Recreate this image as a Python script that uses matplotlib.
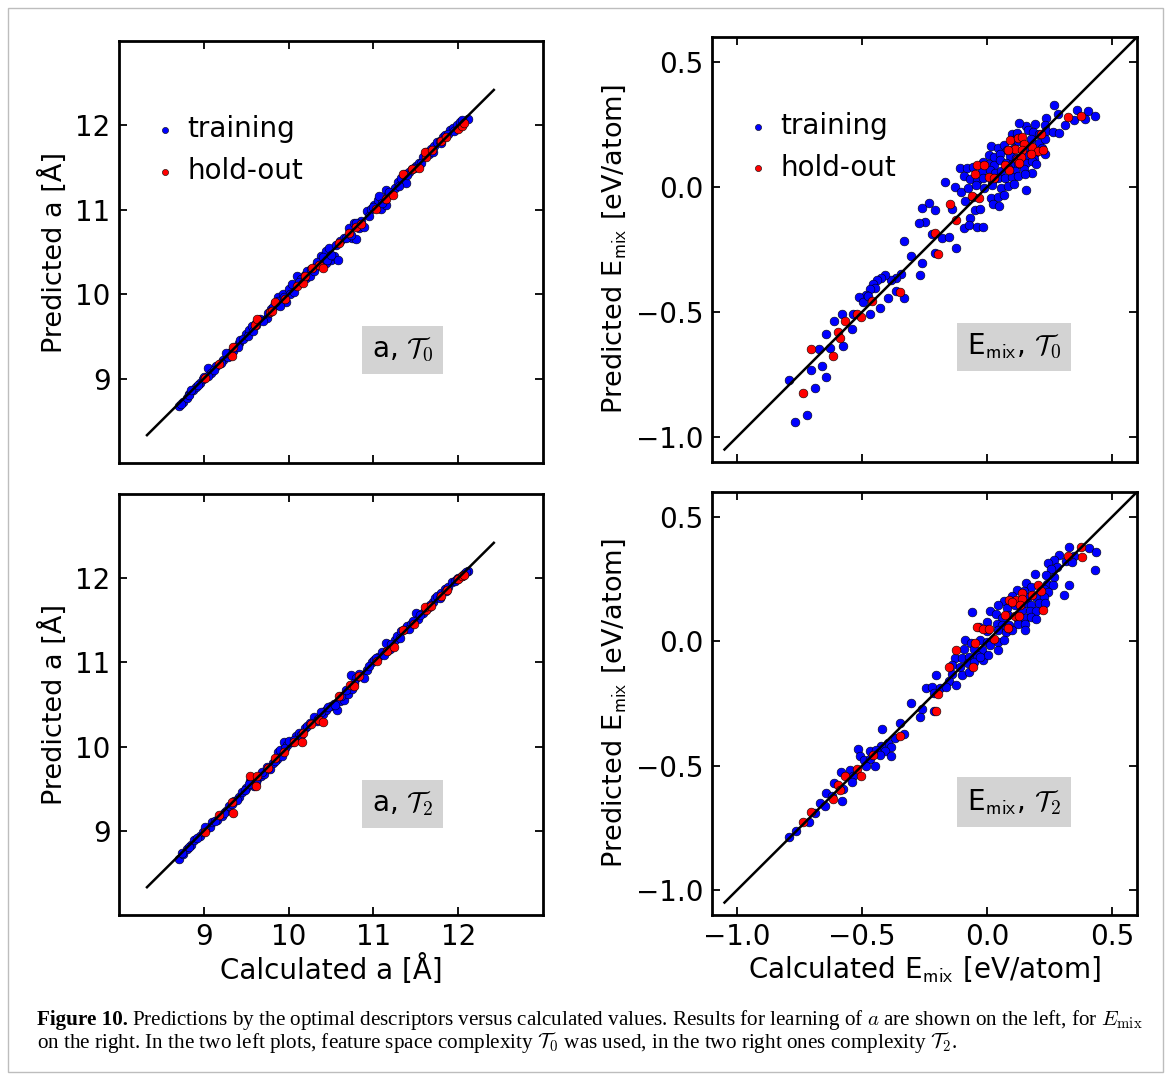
import numpy as np
import matplotlib
matplotlib.use("Agg")
import matplotlib.pyplot as plt
from matplotlib.patches import Rectangle

plt.rcParams["mathtext.fontset"] = "cm"
plt.rcParams["font.family"] = "DejaVu Sans"

# ---------------------------------------------------------------------------
# data (calculated, predicted)
# ---------------------------------------------------------------------------
a_t0_training = [
    (8.71, 8.67), (8.75, 8.72), (8.80, 8.77), (8.83, 8.82), (8.87, 8.86), (8.91, 8.90),
    (8.96, 8.95), (8.99, 9.00), (9.05, 9.12), (9.09, 9.07), (9.14, 9.15), (9.23, 9.22),
    (9.28, 9.26), (9.32, 9.32), (9.37, 9.38), (9.42, 9.42), (9.43, 9.46), (9.50, 9.53),
    (9.53, 9.58), (9.57, 9.62), (9.61, 9.66), (9.66, 9.71), (9.74, 9.72), (9.79, 9.83),
    (9.84, 9.90), (9.88, 9.97), (9.93, 10.00), (9.97, 9.91), (10.00, 10.06), (10.04, 10.12),
    (10.10, 10.22), (10.15, 10.18), (10.19, 10.23), (10.22, 10.27), (10.27, 10.30),
    (10.32, 10.33), (10.38, 10.45), (10.44, 10.51), (10.48, 10.55), (10.50, 10.40),
    (10.53, 10.45), (10.58, 10.41), (10.44, 10.37), (10.61, 10.63), (10.65, 10.67),
    (10.71, 10.79), (10.77, 10.84), (10.83, 10.79), (10.89, 10.80), (10.75, 10.67),
    (10.79, 10.65), (10.85, 10.87), (10.93, 10.99), (10.97, 11.01), (11.01, 11.06),
    (11.06, 11.12), (11.09, 11.01), (11.07, 11.16), (11.15, 11.24), (11.17, 11.17),
    (11.21, 11.20), (11.15, 11.06), (11.25, 11.26), (11.29, 11.33), (11.33, 11.38),
    (11.37, 11.42), (11.38, 11.32), (11.42, 11.45), (11.46, 11.48), (11.50, 11.52),
    (11.54, 11.56), (11.58, 11.62), (11.62, 11.69), (11.68, 11.72), (11.72, 11.76),
    (11.75, 11.80), (11.78, 11.82), (11.82, 11.86), (11.85, 11.89), (11.90, 11.95),
    (11.94, 11.97), (11.98, 12.01), (12.02, 12.04), (12.07, 12.05), (12.11, 12.08),
    (8.73, 8.70), (8.82, 8.80), (8.85, 8.86), (8.93, 8.92), (9.00, 9.02), (9.05, 9.03),
    (9.12, 9.10), (9.20, 9.19), (9.26, 9.30), (9.35, 9.33), (9.40, 9.38), (9.46, 9.47),
    (9.52, 9.50), (9.58, 9.56), (9.62, 9.64), (9.70, 9.68), (9.76, 9.78), (9.82, 9.85),
    (9.88, 9.92), (9.90, 9.86), (9.95, 9.97), (10.02, 10.00), (10.06, 10.03), (10.12, 10.14),
    (10.20, 10.19), (10.25, 10.22), (10.30, 10.27), (10.34, 10.38), (10.40, 10.44),
    (10.45, 10.41), (10.50, 10.47), (10.56, 10.58), (10.68, 10.66), (10.74, 10.70),
    (10.80, 10.84), (10.95, 10.93), (11.00, 11.03), (11.10, 11.08), (11.18, 11.21),
    (11.30, 11.28), (11.40, 11.41), (11.48, 11.50), (11.56, 11.55), (11.65, 11.66),
    (11.70, 11.69), (11.80, 11.79), (11.88, 11.90), (11.95, 11.93), (12.05, 12.06),
]
a_t0_holdout = [
    (9.01, 9.01), (9.18, 9.17), (9.33, 9.27), (9.35, 9.38), (9.60, 9.63), (9.63, 9.71),
    (9.78, 9.79), (9.81, 9.80), (9.84, 9.91), (9.96, 9.94), (10.10, 10.10), (10.17, 10.13),
    (10.19, 10.21), (10.28, 10.31), (10.36, 10.35), (10.41, 10.31), (10.59, 10.61),
    (10.71, 10.72), (10.79, 10.80), (10.85, 10.83), (11.03, 11.01), (11.15, 11.13),
    (11.23, 11.17), (11.35, 11.42), (11.46, 11.48), (11.54, 11.50), (11.62, 11.63),
    (11.61, 11.68), (11.69, 11.71), (11.80, 11.81), (11.86, 11.86), (12.00, 11.96),
    (12.04, 11.99), (12.07, 12.03),
]

a_t2_training = [
    (8.71, 8.66), (8.76, 8.72), (8.80, 8.78), (8.85, 8.83), (8.89, 8.89), (8.95, 8.94),
    (8.99, 8.99), (9.03, 9.02), (9.07, 9.05), (9.10, 9.10), (9.16, 9.13), (9.21, 9.18),
    (9.26, 9.24), (9.30, 9.29), (9.36, 9.35), (9.41, 9.40), (9.45, 9.46), (9.50, 9.51),
    (9.55, 9.59), (9.59, 9.53), (9.63, 9.61), (9.67, 9.65), (9.71, 9.68), (9.78, 9.73),
    (9.82, 9.80), (9.86, 9.85), (9.87, 9.94), (9.90, 9.96), (9.94, 10.06), (9.98, 10.02),
    (10.04, 10.05), (10.09, 10.12), (10.12, 10.16), (10.19, 10.22), (10.22, 10.25),
    (10.30, 10.35), (10.35, 10.33), (10.41, 10.39), (10.44, 10.44), (10.50, 10.48),
    (10.53, 10.51), (10.57, 10.44), (10.61, 10.54), (10.65, 10.55), (10.70, 10.63),
    (10.75, 10.69), (10.73, 10.85), (10.79, 10.81), (10.87, 10.85), (10.89, 10.82),
    (10.93, 10.91), (10.98, 11.01), (11.01, 11.03), (11.05, 11.07), (11.10, 11.12),
    (11.15, 11.23), (11.16, 11.13), (11.19, 11.16), (11.25, 11.27), (11.28, 11.31),
    (11.33, 11.37), (11.37, 11.40), (11.40, 11.43), (11.44, 11.46), (11.50, 11.59),
    (11.53, 11.52), (11.58, 11.59), (11.62, 11.64), (11.65, 11.66), (11.70, 11.72),
    (11.73, 11.76), (11.75, 11.79), (11.80, 11.82), (11.84, 11.87), (11.88, 11.90),
    (11.93, 11.95), (11.96, 11.97), (12.00, 12.00), (12.04, 12.03), (12.07, 12.05),
    (12.11, 12.08),
    (8.74, 8.74), (8.83, 8.81), (8.92, 8.91), (9.01, 9.04), (9.13, 9.12), (9.24, 9.21),
    (9.33, 9.32), (9.39, 9.37), (9.48, 9.49), (9.53, 9.55), (9.61, 9.58), (9.69, 9.70),
    (9.75, 9.76), (9.84, 9.83), (9.92, 9.89), (9.96, 9.98), (10.01, 10.07), (10.06, 10.08),
    (10.15, 10.14), (10.25, 10.28), (10.33, 10.30), (10.38, 10.41), (10.46, 10.47),
    (10.55, 10.50), (10.62, 10.60), (10.68, 10.67), (10.77, 10.75), (10.83, 10.86),
    (10.95, 10.96), (11.03, 11.05), (11.12, 11.09), (11.21, 11.22), (11.31, 11.29),
    (11.42, 11.40), (11.47, 11.49), (11.55, 11.56), (11.67, 11.68), (11.78, 11.77),
    (11.86, 11.85), (11.98, 11.99), (12.09, 12.07),
]
a_t2_holdout = [
    (9.01, 8.98), (9.18, 9.19), (9.35, 9.21), (9.33, 9.34), (9.55, 9.65), (9.61, 9.53),
    (9.63, 9.65), (9.76, 9.74), (9.84, 9.86), (9.95, 9.93), (10.06, 10.05), (10.16, 10.06),
    (10.17, 10.16), (10.26, 10.27), (10.36, 10.32), (10.41, 10.29), (10.59, 10.60),
    (10.72, 10.73), (10.77, 10.72), (10.83, 10.84), (11.04, 11.02), (11.16, 11.14),
    (11.24, 11.18), (11.35, 11.38), (11.48, 11.46), (11.62, 11.62), (11.61, 11.66),
    (11.68, 11.67), (11.80, 11.79), (11.87, 11.86), (12.00, 11.99), (12.04, 12.03),
    (12.07, 12.04),
]

e_t0_training = [
    (0.266, 0.328), (0.359, 0.307), (0.404, 0.304), (0.432, 0.284), (0.311, 0.248),
    (0.348, 0.267), (0.392, 0.271), (0.282, 0.291), (0.236, 0.275), (0.230, 0.248),
    (0.190, 0.253), (0.157, 0.244), (0.128, 0.257), (0.100, 0.213), (0.121, 0.217),
    (0.164, 0.227), (0.183, 0.221), (0.206, 0.211), (0.236, 0.224), (0.263, 0.221),
    (0.289, 0.217), (0.108, 0.187), (0.124, 0.184), (0.177, 0.191), (0.206, 0.177),
    (0.230, 0.191), (0.016, 0.164), (0.042, 0.155), (0.069, 0.168), (0.078, 0.147),
    (0.104, 0.151), (0.150, 0.160), (0.193, 0.137), (0.219, 0.155), (0.008, 0.128),
    (0.029, 0.120), (0.051, 0.133), (0.091, 0.124), (0.117, 0.117), (0.164, 0.128),
    (0.187, 0.111), (0.230, 0.131), (-0.015, 0.101), (0.008, 0.093), (0.029, 0.088),
    (0.051, 0.107), (0.074, 0.097), (0.098, 0.091), (0.124, 0.093), (0.157, 0.097),
    (0.179, 0.104), (0.197, 0.093), (-0.107, 0.075), (-0.081, 0.075), (-0.058, 0.080),
    (-0.021, 0.064), (0.012, 0.067), (0.032, 0.057), (0.055, 0.064), (0.082, 0.077),
    (0.111, 0.064), (0.148, 0.071), (0.179, 0.057), (-0.094, 0.044), (-0.067, 0.031),
    (-0.041, 0.024), (-0.015, 0.037), (0.018, 0.024), (0.045, 0.035), (0.071, 0.035),
    (0.098, 0.040), (0.124, 0.044), (0.150, 0.051), (-0.169, 0.021), (-0.129, 0.000),
    (-0.103, -0.019), (-0.077, -0.003), (-0.045, 0.008), (-0.011, -0.003), (0.018, 0.008),
    (0.055, -0.003), (0.082, 0.004), (0.108, 0.013), (0.157, -0.012), (-0.087, -0.056),
    (-0.058, -0.040), (0.016, -0.045), (0.042, -0.040), (0.069, -0.032), (0.025, -0.069),
    (0.048, -0.076), (-0.232, -0.063), (-0.209, -0.093), (-0.050, -0.093), (-0.028, -0.089),
    (-0.140, -0.089), (-0.259, -0.085), (-0.248, -0.139), (-0.067, -0.123), (-0.094, -0.163),
    (-0.071, -0.152), (-0.041, -0.160), (-0.015, -0.160), (-0.222, -0.187), (-0.180, -0.203),
    (-0.151, -0.200), (-0.272, -0.143),
    (-0.331, -0.216), (-0.304, -0.276), (-0.261, -0.303), (-0.269, -0.352), (-0.344, -0.347),
    (-0.364, -0.365), (-0.384, -0.373), (-0.410, -0.352), (-0.423, -0.363), (-0.440, -0.373),
    (-0.456, -0.389), (-0.450, -0.405), (-0.469, -0.409), (-0.485, -0.432), (-0.512, -0.440),
    (-0.498, -0.459), (-0.476, -0.436), (-0.430, -0.483), (-0.397, -0.445), (-0.366, -0.416),
    (-0.331, -0.443), (-0.467, -0.507), (-0.535, -0.509), (-0.582, -0.507), (-0.612, -0.536),
    (-0.542, -0.569), (-0.644, -0.587), (-0.575, -0.636), (-0.630, -0.643), (-0.674, -0.649),
    (-0.661, -0.716), (-0.704, -0.733), (-0.644, -0.760), (-0.793, -0.772), (-0.690, -0.803),
    (-0.720, -0.912), (-0.768, -0.940), (-0.126, -0.243), (-0.208, -0.263),
]
e_t0_holdout = [
    (0.322, 0.280), (0.375, 0.284), (0.214, 0.213), (0.091, 0.187), (0.124, 0.195),
    (0.140, 0.200), (0.148, 0.171), (0.111, 0.151), (0.084, 0.147), (0.140, 0.147),
    (0.179, 0.160), (0.203, 0.144), (0.223, 0.147), (0.177, 0.131), (0.121, 0.111),
    (0.135, 0.120), (0.127, 0.097), (0.071, 0.088), (0.087, 0.067), (-0.041, 0.088),
    (-0.013, 0.088), (-0.050, 0.051), (0.008, 0.040), (0.029, 0.035), (-0.061, -0.036),
    (-0.034, -0.043), (-0.149, -0.069), (-0.124, -0.133), (-0.209, -0.184),
    (-0.198, -0.267), (-0.348, -0.420), (-0.459, -0.456), (-0.522, -0.507), (-0.506, -0.520),
    (-0.568, -0.536), (-0.597, -0.579), (-0.588, -0.605), (-0.704, -0.647), (-0.615, -0.677),
    (-0.737, -0.825),
]

e_t2_training = [
    (0.329, 0.380), (0.408, 0.375), (0.434, 0.357), (0.289, 0.348), (0.348, 0.344),
    (0.315, 0.321), (0.338, 0.317), (0.269, 0.327), (0.243, 0.313), (0.280, 0.300),
    (0.256, 0.291), (0.430, 0.287), (0.190, 0.271), (0.236, 0.268), (0.267, 0.260),
    (0.157, 0.233), (0.177, 0.220), (0.240, 0.231), (0.263, 0.228), (0.329, 0.228),
    (0.121, 0.207), (0.148, 0.201), (0.227, 0.211), (0.245, 0.197), (0.309, 0.188),
    (0.098, 0.184), (0.164, 0.177), (0.197, 0.180), (0.227, 0.177), (0.069, 0.161),
    (0.150, 0.153), (0.174, 0.144), (0.206, 0.153), (0.232, 0.153), (0.045, 0.144),
    (0.078, 0.135), (0.111, 0.144), (0.140, 0.124), (0.170, 0.121), (0.197, 0.121),
    (-0.061, 0.117), (0.012, 0.121), (0.034, 0.108), (0.058, 0.095), (0.084, 0.104),
    (0.124, 0.091), (0.150, 0.095), (0.177, 0.097), (0.197, 0.091), (-0.001, 0.077),
    (0.038, 0.071), (0.058, 0.064), (0.087, 0.064), (0.124, 0.071), (0.153, 0.068),
    (0.153, 0.047), (-0.034, 0.057), (-0.001, 0.041), (0.045, 0.044), (0.074, 0.037),
    (0.098, 0.044), (-0.090, 0.004), (-0.063, -0.007), (-0.028, 0.004), (-0.001, -0.003),
    (0.045, -0.003), (0.069, 0.007), (-0.094, -0.029), (-0.054, -0.029), (-0.021, -0.036),
    (0.012, -0.016), (0.045, -0.036), (-0.127, -0.069), (-0.100, -0.069), (-0.074, -0.063),
    (-0.041, -0.056), (-0.015, -0.076), (0.005, -0.056), (-0.140, -0.096), (-0.107, -0.103),
    (-0.077, -0.089), (-0.054, -0.083), (-0.028, -0.063), (-0.206, -0.136), (-0.140, -0.132),
    (-0.100, -0.136), (-0.074, -0.123), (-0.151, -0.159), (-0.124, -0.176), (-0.246, -0.189),
    (-0.219, -0.183), (-0.190, -0.189), (-0.166, -0.185), (-0.213, -0.209),
    (-0.304, -0.249), (-0.261, -0.273), (-0.269, -0.305), (-0.212, -0.279), (-0.348, -0.329),
    (-0.419, -0.353), (-0.331, -0.372), (-0.370, -0.389), (-0.397, -0.407), (-0.423, -0.420),
    (-0.384, -0.425), (-0.516, -0.433), (-0.469, -0.439), (-0.443, -0.436), (-0.410, -0.439),
    (-0.384, -0.463), (-0.509, -0.463), (-0.493, -0.476), (-0.469, -0.473), (-0.450, -0.500),
    (-0.483, -0.503), (-0.430, -0.456), (-0.586, -0.527), (-0.549, -0.516), (-0.538, -0.543),
    (-0.542, -0.567), (-0.575, -0.593), (-0.612, -0.569), (-0.644, -0.609), (-0.621, -0.623),
    (-0.582, -0.643), (-0.667, -0.649), (-0.647, -0.660), (-0.687, -0.692), (-0.714, -0.727),
    (-0.766, -0.763), (-0.793, -0.785),
]
e_t2_holdout = [
    (0.375, 0.380), (0.322, 0.344), (0.379, 0.340), (0.203, 0.228), (0.214, 0.201),
    (0.179, 0.188), (0.140, 0.193), (0.087, 0.167), (0.117, 0.164), (0.140, 0.171),
    (0.100, 0.157), (0.131, 0.144), (0.223, 0.127), (0.071, 0.104), (0.111, 0.100),
    (0.127, 0.100), (-0.041, 0.057), (-0.015, 0.051), (0.008, 0.049), (0.084, 0.055),
    (0.029, 0.011), (-0.050, -0.007), (-0.124, -0.033), (-0.058, -0.103), (-0.151, -0.105),
    (-0.197, -0.213), (-0.205, -0.280), (-0.347, -0.380), (-0.456, -0.456), (-0.522, -0.513),
    (-0.506, -0.540), (-0.568, -0.540), (-0.595, -0.576), (-0.588, -0.599), (-0.615, -0.633),
    (-0.704, -0.687), (-0.736, -0.727),
]

A_LIM = (8.0, 13.0)
A_TICKS = [9, 10, 11, 12]
A_DIAG = (8.33, 12.42)
E_LIM = (-1.1, 0.6)
E_TICKS = [-1.0, -0.5, 0.0, 0.5]
E_DIAG = (-1.05, 0.6)

W, H = 1171, 1077


def fig_rect(x0, y0, x1, y1):
    """pixel box (top-left origin) -> figure fraction rect"""
    return [x0 / W, 1 - y1 / H, (x1 - x0) / W, (y1 - y0) / H]


def panel(ax, training, holdout, lim, ticks, diag, xlabel, ylabel, tag, legend):
    tr = np.array(training)
    ho = np.array(holdout)
    ax.scatter(tr[:, 0], tr[:, 1], s=40, c="#0000ff", edgecolors="black",
               linewidths=0.4, label="training", zorder=2)
    ax.scatter(ho[:, 0], ho[:, 1], s=40, c="#ff0000", edgecolors="black",
               linewidths=0.4, label="hold-out", zorder=2.5)
    ax.plot(diag, diag, color="black", lw=1.8, zorder=3)
    ax.set_xlim(lim)
    ax.set_ylim(lim)
    ax.set_xticks(ticks)
    ax.set_yticks(ticks)
    ax.tick_params(direction="in", top=True, right=True, length=6, width=1.3,
                   labelsize=20, pad=6)
    for sp in ax.spines.values():
        sp.set_linewidth(2.0)
    if xlabel:
        ax.set_xlabel(xlabel, fontsize=20, labelpad=2)
    else:
        ax.set_xticklabels([])
    ax.set_ylabel(ylabel, fontsize=19.5, labelpad=5)
    ax.text(tag[1], tag[2], tag[0], transform=ax.transAxes, fontsize=20,
            ha="center", va="center",
            bbox=dict(facecolor="#d3d3d3", edgecolor="none", pad=7))
    if legend:
        ax.legend(loc="upper left", bbox_to_anchor=(0.016, 0.85), frameon=False,
                  scatterpoints=1, markerscale=0.7, fontsize=20,
                  handletextpad=-0.17, labelspacing=0.5, borderaxespad=0)


fig = plt.figure(figsize=(W / 100, H / 100), dpi=100)

ax_tl = fig.add_axes(fig_rect(119, 41, 543, 463))
ax_tr = fig.add_axes(fig_rect(712, 37, 1137, 462))
ax_bl = fig.add_axes(fig_rect(119, 494, 543, 915))
ax_br = fig.add_axes(fig_rect(712, 492, 1137, 915))

panel(ax_tl, a_t0_training, a_t0_holdout, A_LIM, A_TICKS, A_DIAG,
      None, "Predicted a [Å]", (r"a, $\mathcal{T}_0$", 0.669, 0.268), True)
panel(ax_bl, a_t2_training, a_t2_holdout, A_LIM, A_TICKS, A_DIAG,
      "Calculated a [Å]", "Predicted a [Å]", (r"a, $\mathcal{T}_2$", 0.669, 0.264), False)
panel(ax_tr, e_t0_training, e_t0_holdout, E_LIM, E_TICKS, E_DIAG,
      None, r"Predicted E$_\mathsf{mix}$ [eV/atom]",
      (r"E$_\mathsf{mix}$, $\mathcal{T}_0$", 0.711, 0.271), True)
panel(ax_br, e_t2_training, e_t2_holdout, E_LIM, E_TICKS, E_DIAG,
      r"Calculated E$_\mathsf{mix}$ [eV/atom]", r"Predicted E$_\mathsf{mix}$ [eV/atom]",
      (r"E$_\mathsf{mix}$, $\mathcal{T}_2$", 0.711, 0.267), False)

# outer frame of the figure box
fig.patches.append(Rectangle((8 / W, 1 - 1072 / H), 1155 / W, 1064 / H,
                             transform=fig.transFigure, fill=False,
                             edgecolor="#bdbdbd", lw=1.0))

# caption
cap_kw = dict(fontsize=15.2, family="Liberation Serif", va="baseline")
x0 = 37 / W
bold = fig.text(x0, 1 - 1025 / H, "Figure 10.", weight="bold", **cap_kw)
renderer = fig.canvas.get_renderer()
bb = bold.get_window_extent(renderer)
fig.text((bb.x1 + 4) / W, 1 - 1025 / H,
         r"Predictions by the optimal descriptors versus calculated values. "
         r"Results for learning of $a$ are shown on the left, for $E_\mathrm{mix}$",
         **cap_kw)
fig.text(x0, 1 - 1048 / H,
         r"on the right. In the two left plots, feature space complexity $\mathcal{T}_0$ "
         r"was used, in the two right ones complexity $\mathcal{T}_2$.",
         **cap_kw)

fig.savefig("out.png", dpi=100)
